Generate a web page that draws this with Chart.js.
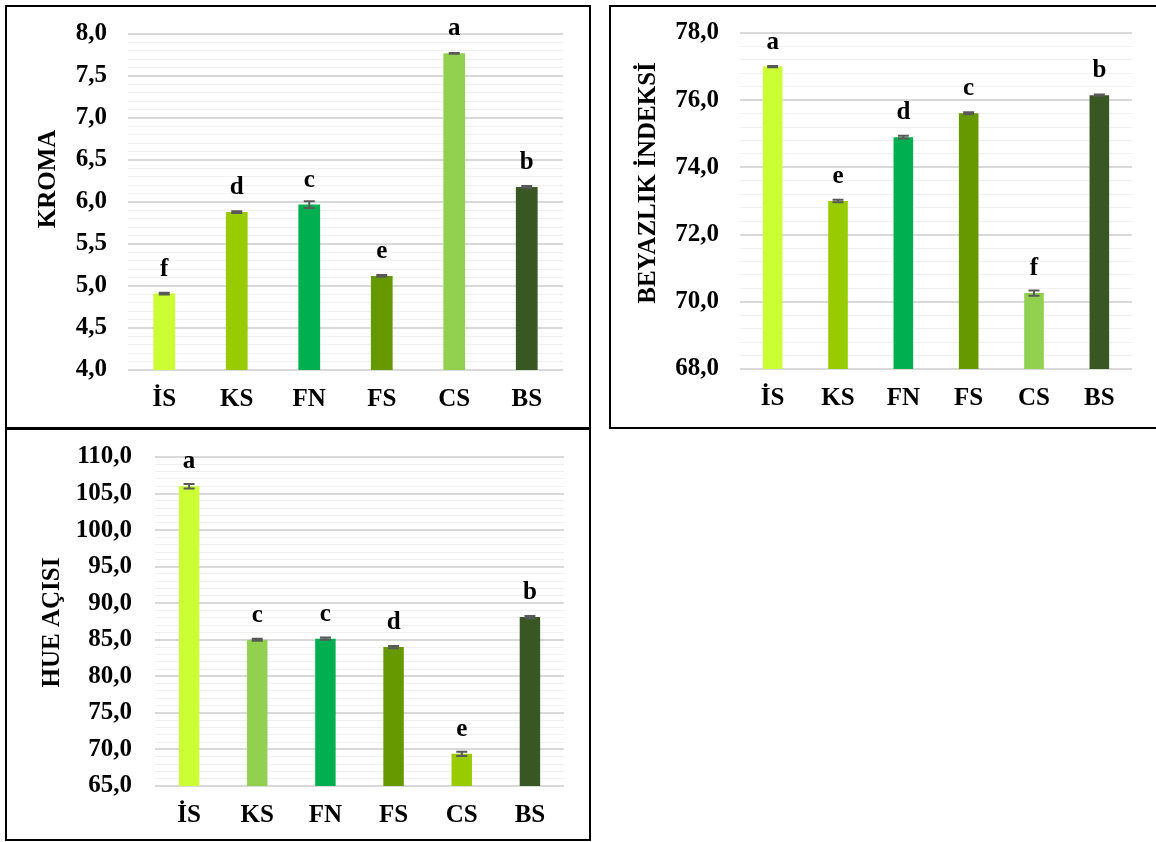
<!DOCTYPE html>
<html>
<head>
<meta charset="utf-8">
<script src="https://cdn.jsdelivr.net/npm/chart.js@4.4.1/dist/chart.umd.min.js"></script>
<style>
    html, body { margin: 0; padding: 0; background: #fff; overflow: hidden; }
    body { width: 1156px; height: 842px; position: relative; }
    .panel { position: absolute; border: 2px solid #000; box-sizing: border-box; background: #fff; }
    .panel canvas { display: block; }
</style>
</head>
<body>
<div class="panel" style="left:5px;top:5px;width:586px;height:424px"><canvas id="chartKroma" width="582" height="420"></canvas></div>
<div class="panel" style="left:609px;top:5px;width:600px;height:424px"><canvas id="chartBeyaz" width="545" height="420"></canvas></div>
<div class="panel" style="left:5px;top:428px;width:586px;height:413px"><canvas id="chartHue" width="582" height="408"></canvas></div>
<script>
// ==========================
// Datos
// ==========================

const categorias = ['İS', 'KS', 'FN', 'FS', 'CS', 'BS'];

const kromaValores = [4.91, 5.88, 5.97, 5.12, 7.77, 6.18];
const kromaError = [0.01, 0.01, 0.04, 0.01, 0.005, 0.01];
const kromaLetras = ['f', 'd', 'c', 'e', 'a', 'b'];

const beyazValores = [77.0, 73.0, 74.9, 75.61, 70.26, 76.15];
const beyazError = [0.02, 0.04, 0.04, 0.03, 0.08, 0.02];
const beyazLetras = ['a', 'e', 'd', 'c', 'f', 'b'];

const hueValores = [106.0, 85.0, 85.15, 84.0, 69.4, 88.1];
const hueError = [0.3, 0.15, 0.15, 0.15, 0.3, 0.15];
const hueLetras = ['a', 'c', 'c', 'd', 'e', 'b'];

// colores de las barras
const coloresA = ['#ccff33', '#99cc00', '#00b050', '#669900', '#92d050', '#385723'];
const coloresHue = ['#ccff33', '#92d050', '#00b050', '#669900', '#99cc00', '#385723'];

// ==========================
// Plugins
// ==========================

const errorBars = {
    id: 'errorBars',
    afterDatasetsDraw(chart, args, opts) {
        const { ctx } = chart;
        const y = chart.scales.y;
        const vals = chart.data.datasets[0].data;
        const w = opts.capWidth / 2;
        ctx.save();
        ctx.strokeStyle = opts.color;
        ctx.lineWidth = opts.lineWidth;
        chart.getDatasetMeta(0).data.forEach((bar, i) => {
            const arriba = y.getPixelForValue(vals[i] + opts.errors[i]);
            const abajo = y.getPixelForValue(vals[i] - opts.errors[i]);
            ctx.beginPath();
            ctx.moveTo(bar.x, arriba); ctx.lineTo(bar.x, abajo);
            ctx.moveTo(bar.x - w, arriba); ctx.lineTo(bar.x + w, arriba);
            ctx.moveTo(bar.x - w, abajo); ctx.lineTo(bar.x + w, abajo);
            ctx.stroke();
        });
        ctx.restore();
    }
};

const letras = {
    id: 'letras',
    afterDatasetsDraw(chart, args, opts) {
        const { ctx } = chart;
        ctx.save();
        ctx.font = opts.font;
        ctx.fillStyle = '#000';
        ctx.textAlign = 'center';
        ctx.textBaseline = 'alphabetic';
        chart.getDatasetMeta(0).data.forEach((bar, i) => {
            ctx.fillText(opts.labels[i], bar.x, bar.y - opts.offset);
        });
        ctx.restore();
    }
};

const tituloY = {
    id: 'tituloY',
    afterDraw(chart, args, opts) {
        const { ctx, chartArea } = chart;
        ctx.save();
        ctx.font = opts.font;
        ctx.fillStyle = '#000';
        ctx.textAlign = 'center';
        ctx.textBaseline = 'middle';
        ctx.translate(opts.x, (chartArea.top + chartArea.bottom) / 2 + opts.dy);
        ctx.rotate(-Math.PI / 2);
        ctx.fillText(opts.text, 0, 0);
        ctx.restore();
    }
};

// ==========================
// Gráficos
// ==========================

const fuente = "bold 25px 'Liberation Serif', 'Times New Roman', serif";
Chart.defaults.font.family = "'Liberation Serif', 'Times New Roman', serif";
Chart.defaults.font.size = 25;
Chart.defaults.font.weight = 'bold';
Chart.defaults.color = '#000';

function esMayor(v, mayor) {
    return Math.abs(v / mayor - Math.round(v / mayor)) < 1e-6;
}

function crearGrafico(id, cfg) {
    new Chart(document.getElementById(id), {
        type: 'bar',
        data: {
            labels: categorias,
            datasets: [{
                data: cfg.valores,
                backgroundColor: cfg.colores,
                barPercentage: 0.3,
                categoryPercentage: 1
            }]
        },
        options: {
            responsive: false,
            animation: false,
            layout: { padding: { top: cfg.top, right: cfg.right, left: 0, bottom: 0 } },
            plugins: {
                legend: { display: false },
                tooltip: { enabled: false },
                errorBars: { errors: cfg.errores, color: '#595959', lineWidth: 2, capWidth: 11 },
                letras: { labels: cfg.letras, font: fuente, offset: 18 },
                tituloY: { text: cfg.titulo, font: fuente, x: cfg.tituloX, dy: cfg.tituloDy }
            },
            scales: {
                x: {
                    grid: { display: false },
                    border: { display: false },
                    ticks: { padding: 7 },
                    afterFit: s => { s.height = cfg.altoX; }
                },
                y: {
                    min: cfg.min,
                    max: cfg.max,
                    border: { display: false },
                    grid: {
                        drawTicks: true,
                        tickLength: cfg.padTicks,
                        tickColor: 'rgba(0,0,0,0)',
                        color: c => c.tick && esMayor(c.tick.value, cfg.mayor) ? '#d9d9d9' : '#f0f0f0',
                        lineWidth: c => c.tick && esMayor(c.tick.value, cfg.mayor) ? 2 : 1
                    },
                    ticks: {
                        stepSize: cfg.menor,
                        autoSkip: false,
                        padding: 0,
                        callback: v => esMayor(v, cfg.mayor) ? v.toFixed(1).replace('.', ',') : ''
                    },
                    afterFit: s => { s.width = cfg.anchoY; }
                }
            }
        },
        plugins: [errorBars, letras, tituloY]
    });
}

crearGrafico('chartKroma', {
    valores: kromaValores, errores: kromaError, letras: kromaLetras, colores: coloresA,
    titulo: 'KROMA', tituloX: 41.5, tituloDy: -23,
    min: 4, max: 8, mayor: 0.5, menor: 0.1,
    top: 27, right: 26, anchoY: 121, altoX: 57, padTicks: 21
});

crearGrafico('chartBeyaz', {
    valores: beyazValores, errores: beyazError, letras: beyazLetras, colores: coloresA,
    titulo: 'BEYAZLIK İNDEKSİ', tituloX: 38, tituloDy: -18,
    min: 68, max: 78, mayor: 2, menor: 0.4,
    top: 26, right: 24, anchoY: 129, altoX: 58, padTicks: 21
});

crearGrafico('chartHue', {
    valores: hueValores, errores: hueError, letras: hueLetras, colores: coloresHue,
    titulo: 'HUE AÇISI', tituloX: 46, tituloDy: 1,
    min: 65, max: 110, mayor: 5, menor: 1,
    top: 27, right: 25, anchoY: 148, altoX: 52, padTicks: 23
});
</script>
</body>
</html>
